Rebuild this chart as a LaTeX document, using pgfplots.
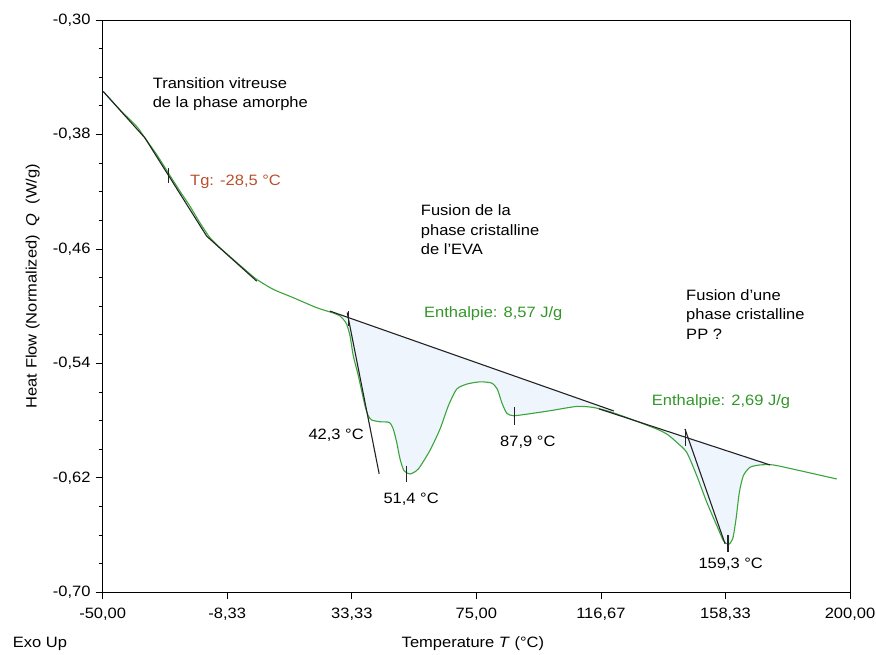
\documentclass[border=0pt]{standalone}
\usepackage{fontspec}
\setmainfont{Liberation Sans}[FakeStretch=1.1]
\usepackage{pgfplots}
\pgfplotsset{compat=1.18}
\definecolor{curvegreen}{RGB}{58,165,58}
\definecolor{textgreen}{RGB}{50,150,40}
\definecolor{tgcolor}{RGB}{185,80,45}
\definecolor{fillblue}{RGB}{238,245,253}
\definecolor{tanline}{RGB}{35,35,35}
\begin{document}
\begin{tikzpicture}[font=\fontsize{15}{19}\selectfont]
\begin{axis}[
  name=ax,
  scale only axis, width=747.3pt, height=572.3pt,
  xmin=-50, xmax=200, ymin=-0.70, ymax=-0.30,
  xtick={-50,-8.3333,33.3333,75,116.6667,158.3333,200},
  xticklabels={{-50,00},{-8,33},{33,33},{75,00},{116,67},{158,33},{200,00}},
  ytick={-0.70,-0.62,-0.54,-0.46,-0.38,-0.30},
  yticklabels={{-0,70},{-0,62},{-0,54},{-0,46},{-0,38},{-0,30}},
  minor x tick num=3, minor y tick num=3,
  tick pos=left, tick align=outside,
  major tick length=7pt, minor tick length=4pt,
  minor x tick style={yshift=4pt},
  axis line style={line width=0.9pt},
  tick style={black, line width=0.8pt},
  xticklabel style={anchor=base, inner sep=0pt, yshift=-19pt},
  yticklabel style={anchor=east, inner sep=0pt, xshift=-5pt},
  xlabel={Temperature \textit{T} (°C)},
  xlabel style={at={(axis description cs:0.4954,-0.0956)}, anchor=base, inner sep=0pt},
  ylabel={Heat Flow (Normalized)\hspace{0.6em}\textit{Q}\hspace{0.6em}(W/g)},
  ylabel style={at={(axis description cs:-0.0883,0.535)}, anchor=base, inner sep=0pt},
  clip=false,
]
% filled enthalpy areas
\addplot[draw=none, fill=fillblue] coordinates {
 (30.5,-0.50675) (31.63,-0.5127) (32.74,-0.5208) (33.84,-0.5348) (35.52,-0.5487)
 (37.75,-0.5697) (38.86,-0.5767) (40.0,-0.5796) (42.77,-0.5808) (45.9,-0.5813)
 (47.2,-0.5859) (48.36,-0.5952) (49.47,-0.6068) (50.8,-0.6150) (52.81,-0.6173)
 (55.59,-0.6138) (59.43,-0.6010) (62.85,-0.5859) (65.62,-0.5697) (68.43,-0.5580)
 (71.78,-0.5545) (76.23,-0.5529) (80.14,-0.5538) (82.02,-0.5580) (83.49,-0.5673)
 (85.16,-0.5748) (87.37,-0.5766) (91.85,-0.5755) (99.65,-0.5731) (108.58,-0.5701)
 (114.1,-0.5708) (119.73,-0.5738) (120.8,-0.5731) (30.5,-0.50675)};
\addplot[draw=none, fill=fillblue] coordinates {
 (135.35,-0.5850) (139.0,-0.5895) (142.04,-0.5952) (145.38,-0.6022) (148.73,-0.6185)
 (152.07,-0.6370) (155.42,-0.6533) (157.63,-0.6638) (159.3,-0.6666) (160.77,-0.6626)
 (161.88,-0.6487) (162.98,-0.6301) (164.32,-0.6185) (166.56,-0.6126) (169.91,-0.6110)
 (173.2,-0.61096) (135.35,-0.5850)};
% DSC curve
\addplot[curvegreen, line width=1.1pt, smooth, tension=0.4] coordinates {
 (-49.8,-0.3500) (-44.21,-0.3628) (-38.62,-0.3744) (-35.85,-0.3825) (-31.93,-0.3941)
 (-28.05,-0.4069) (-24.14,-0.4197) (-20.79,-0.4302) (-17.45,-0.4418) (-14.10,-0.4522)
 (-10.76,-0.4592) (-6.31,-0.4674) (-1.82,-0.4755) (1.52,-0.4813) (7.08,-0.4883)
 (13.77,-0.4941) (21.6,-0.5011) (27.15,-0.5048) (29.39,-0.5069) (30.50,-0.5092)
 (31.63,-0.5127) (32.74,-0.5208) (33.84,-0.5348) (35.52,-0.5487) (37.75,-0.5697)
 (38.86,-0.5767) (40.0,-0.5796) (42.77,-0.5808) (45.9,-0.5813) (47.2,-0.5859)
 (48.36,-0.5952) (49.47,-0.6068) (50.8,-0.6150) (52.81,-0.6173) (55.59,-0.6138)
 (59.43,-0.6010) (62.85,-0.5859) (65.62,-0.5697) (68.43,-0.5580) (71.78,-0.5545)
 (76.23,-0.5529) (80.14,-0.5538) (82.02,-0.5580) (83.49,-0.5673) (85.16,-0.5748)
 (87.37,-0.5766) (91.85,-0.5755) (99.65,-0.5731) (108.58,-0.5701) (114.1,-0.5708)
 (119.73,-0.5738) (126.41,-0.5787) (135.35,-0.5859) (139.0,-0.5898) (142.04,-0.5952)
 (145.38,-0.6022) (148.73,-0.6185) (152.07,-0.6370) (155.42,-0.6533) (157.63,-0.6638)
 (159.3,-0.6666) (160.77,-0.6626) (161.88,-0.6487) (162.98,-0.6301) (164.32,-0.6185)
 (166.56,-0.6126) (169.91,-0.6110) (174.36,-0.6110) (183.28,-0.6150) (195.57,-0.6208)};
% Tg construction
\addplot[tanline, line width=1.1pt] coordinates {
 (-49.8,-0.3500) (-35.85,-0.3825) (-15.21,-0.4511) (1.52,-0.4825)};
% baselines
\addplot[tanline, line width=1.1pt] coordinates {(26,-0.50344) (121,-0.57327)};
\addplot[tanline, line width=1.1pt] coordinates {(116,-0.57178) (173.2,-0.61096)};
% onset tangents
\addplot[tanline, line width=1.1pt] coordinates {(31.8,-0.5045) (42.5,-0.6173)};
\addplot[tanline, line width=1.1pt] coordinates {(144.8,-0.5859) (158.2,-0.6661)};
% markers
\addplot[tanline, line width=1.1pt] coordinates {(-28.0,-0.4032) (-28.0,-0.4136)};
\addplot[tanline, line width=1.1pt] coordinates {(32.2,-0.5034) (32.2,-0.5139)};
\addplot[tanline, line width=1.1pt] coordinates {(51.5,-0.6115) (51.5,-0.6227)};
\addplot[tanline, line width=1.1pt] coordinates {(87.9,-0.5708) (87.9,-0.5831)};
\addplot[tanline, line width=1.1pt] coordinates {(145.1,-0.5859) (145.1,-0.5976)};
\addplot[tanline, line width=1.1pt] coordinates {(159.2,-0.6603) (159.2,-0.6719)};
% annotations
\node[anchor=base west, inner sep=0pt] at (axis cs:-33.3,-0.3476) {Transition vitreuse};
\node[anchor=base west, inner sep=0pt] at (axis cs:-33.3,-0.3612) {de la phase amorphe};
\node[anchor=base west, inner sep=0pt, text=tgcolor] at (axis cs:-20.79,-0.4158) {Tg: -28,5 °C};
\node[anchor=base west, inner sep=0pt] at (axis cs:56.39,-0.43668) {Fusion de la};
\node[anchor=base west, inner sep=0pt] at (axis cs:56.39,-0.45042) {phase cristalline};
\node[anchor=base west, inner sep=0pt] at (axis cs:56.39,-0.46388) {de l'EVA};
\node[anchor=base west, inner sep=0pt, text=textgreen] at (axis cs:57.49,-0.5080) {Enthalpie: 8,57 J/g};
\node[anchor=base west, inner sep=0pt] at (axis cs:145.15,-0.49575) {Fusion d'une};
\node[anchor=base west, inner sep=0pt] at (axis cs:145.15,-0.50921) {phase cristalline};
\node[anchor=base west, inner sep=0pt] at (axis cs:145.15,-0.52315) {PP ?};
\node[anchor=base west, inner sep=0pt, text=textgreen] at (axis cs:133.67,-0.5697) {Enthalpie: 2,69 J/g};
\node[anchor=base west, inner sep=0pt] at (axis cs:18.79,-0.5929) {42,3 °C};
\node[anchor=base west, inner sep=0pt] at (axis cs:43.88,-0.6382) {51,4 °C};
\node[anchor=base west, inner sep=0pt] at (axis cs:82.92,-0.5980) {87,9 °C};
\node[anchor=base west, inner sep=0pt] at (axis cs:149.26,-0.6831) {159,3 °C};
\node[anchor=base west, inner sep=0pt] at (axis description cs:-0.1204,-0.0956) {Exo Up};
\end{axis}
\path ([xshift=-102.7pt,yshift=-62.7pt]ax.south west) rectangle ([xshift=26pt,yshift=20pt]ax.north east);
\end{tikzpicture}
\end{document}
